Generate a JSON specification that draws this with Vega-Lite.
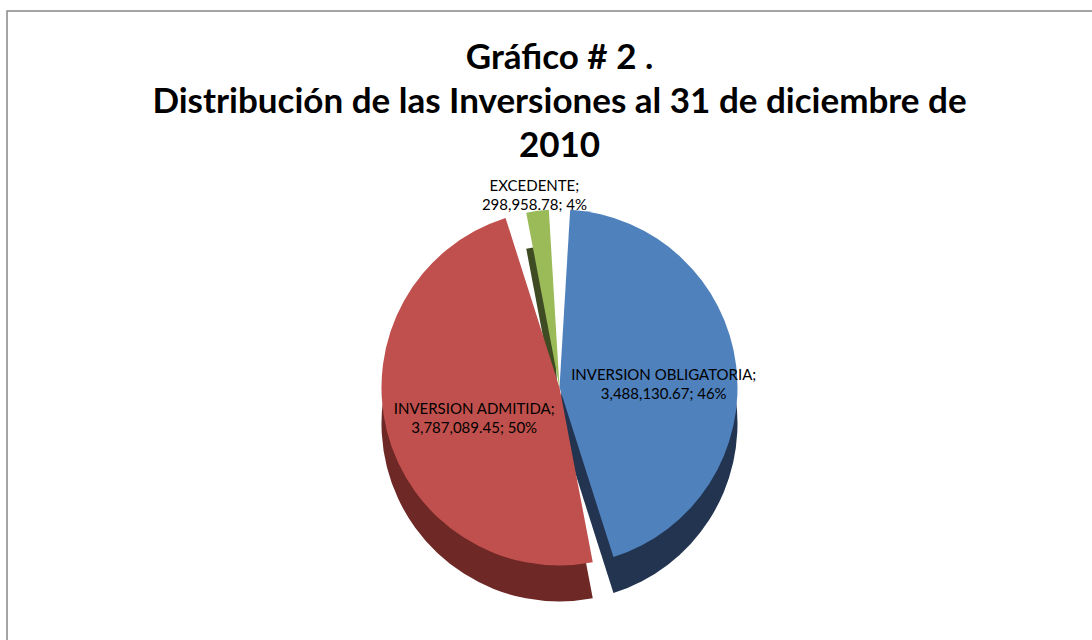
{
  "$schema": "https://vega.github.io/schema/vega-lite/v6.json",
  "autosize": {"type": "fit", "contains": "padding"},
  "width": 1092,
  "height": 640,
  "padding": {"left": 7, "top": 11, "right": -20, "bottom": -20},
  "background": "white",
  "view": {"stroke": "#888888", "strokeWidth": 1.5, "fill": "white"},
  "title": {
    "text": ["Gráfico # 2 .", "Distribución de las Inversiones al 31 de  diciembre de", "2010"],
    "font": "Lato",
    "fontSize": 35,
    "fontWeight": "bold",
    "color": "black",
    "lineHeight": 44,
    "anchor": "middle",
    "frame": "group",
    "offset": -153
  },
  "data": {
    "values": [
      {"idx": 1, "cat": "INVERSION OBLIGATORIA", "value": 3488130.67, "label": "INVERSION OBLIGATORIA;\n3,488,130.67; 46%"},
      {"idx": 2, "cat": "INVERSION ADMITIDA", "value": 3787089.45, "label": "INVERSION ADMITIDA;\n3,787,089.45; 50%"},
      {"idx": 3, "cat": "EXCEDENTE", "value": 298958.78, "label": "EXCEDENTE;\n298,958.78; 4%"}
    ]
  },
  "layer": [
    {
      "mark": {"type": "arc", "outerRadius": 178, "padAngle": 0.12, "yOffset": 88},
      "encoding": {
        "theta": {"field": "value", "type": "quantitative", "stack": true},
        "order": {"field": "idx", "type": "quantitative"},
        "color": {"field": "cat", "type": "nominal", "legend": null,
          "scale": {"domain": ["INVERSION OBLIGATORIA", "INVERSION ADMITIDA", "EXCEDENTE"], "range": ["#22344F", "#6E2826", "#3E4B23"]}}
      }
    },
    {
      "mark": {"type": "arc", "outerRadius": 178, "padAngle": 0.12, "yOffset": 52},
      "encoding": {
        "theta": {"field": "value", "type": "quantitative", "stack": true},
        "order": {"field": "idx", "type": "quantitative"},
        "color": {"field": "cat", "type": "nominal", "legend": null,
          "scale": {"domain": ["INVERSION OBLIGATORIA", "INVERSION ADMITIDA", "EXCEDENTE"], "range": ["#4F81BD", "#C0504D", "#9BBB59"]}}
      }
    },
    {
      "mark": {"type": "text", "radius": 105, "yOffset": 52, "lineBreak": "\n", "font": "Lato", "fontSize": 15, "color": "black", "lineHeight": 19},
      "encoding": {
        "theta": {"field": "value", "type": "quantitative", "stack": true},
        "order": {"field": "idx", "type": "quantitative"},
        "text": {"condition": {"test": "datum.idx == 1", "field": "label"}, "value": ""}
      }
    },
    {
      "mark": {"type": "text", "radius": 88, "yOffset": 52, "lineBreak": "\n", "font": "Lato", "fontSize": 15, "color": "black", "lineHeight": 19},
      "encoding": {
        "theta": {"field": "value", "type": "quantitative", "stack": true},
        "order": {"field": "idx", "type": "quantitative"},
        "text": {"condition": {"test": "datum.idx == 2", "field": "label"}, "value": ""}
      }
    },
    {
      "mark": {"type": "text", "radius": 203, "yOffset": 52, "lineBreak": "\n", "font": "Lato", "fontSize": 15, "color": "black", "lineHeight": 19},
      "encoding": {
        "theta": {"field": "value", "type": "quantitative", "stack": true},
        "order": {"field": "idx", "type": "quantitative"},
        "text": {"condition": {"test": "datum.idx == 3", "field": "label"}, "value": ""}
      }
    }
  ],
  "resolve": {"scale": {"color": "independent"}}
}
